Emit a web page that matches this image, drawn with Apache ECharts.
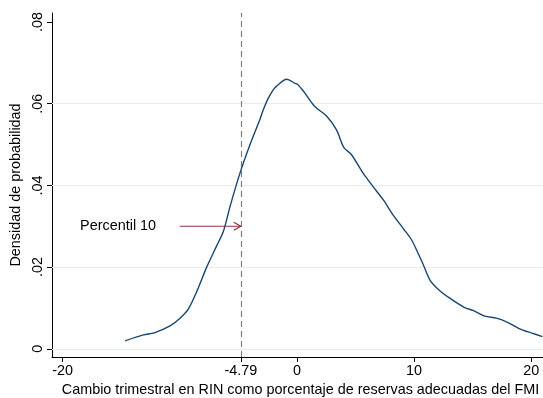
<!DOCTYPE html>
<html>
<head>
<meta charset="utf-8">
<script src="https://cdn.jsdelivr.net/npm/echarts@6/dist/echarts.min.js"></script>
<style>
  html, body { margin: 0; padding: 0; background: #fff; }
  #chart { width: 543px; height: 398px; }
</style>
</head>
<body>
<div id="chart"></div>
<script>
// Kernel density of the quarterly change in NIR (% of IMF adequate reserves)
const xValues = [-14.66, -13.1, -12.17, -10.83, -9.97, -9.27, -8.55, -7.7, -6.85, -6.28, -5.71,
  -4.86, -4.0, -3.15, -2.87, -2.45, -2.02, -1.73, -0.88, -0.17, 0.11, 0.68, 1.53, 2.53, 3.38,
  4.0, 4.66, 5.65, 6.5, 7.36, 8.2, 9.06, 9.78, 10.34, 10.77, 11.34, 12.05, 13.04, 14.32,
  15.03, 16.03, 17.02, 17.88, 19.0, 20.0, 20.95];
const densityValues = [0.00196, 0.0034, 0.0039, 0.0056, 0.0075, 0.0097, 0.0140, 0.0200, 0.0252, 0.0287, 0.0348,
  0.0430, 0.0500, 0.0562, 0.0585, 0.0613, 0.0634, 0.0643, 0.0660, 0.0650, 0.0646, 0.0626, 0.0593, 0.0570, 0.0536,
  0.0493, 0.0475, 0.0430, 0.0397, 0.0365, 0.0328, 0.0295, 0.0267, 0.0234, 0.0207, 0.0169, 0.0146, 0.0124, 0.0101,
  0.0094, 0.0080, 0.0075, 0.0066, 0.0049, 0.0039, 0.0030];

const xTicks = [-20, -4.79, 0, 10, 20];
const yTicks = [0, 0.02, 0.04, 0.06, 0.08];
const gridValues = [0, 0.02, 0.04, 0.06];

const percentile10 = -4.79;
const arrowStart = [-10, 0.03];
const arrowEnd = [-4.79, 0.03];
const noteText = 'Percentil 10';
const notePos = [-18.5, 0.03];

const xTitle = 'Cambio trimestral en RIN como porcentaje de reservas adecuadas del FMI';
const yTitle = 'Densidad de probabilidad';

const FONT = 'Liberation Sans, Arial, sans-serif';
const FS = 14.4;
const chart = echarts.init(document.getElementById('chart'), null, { renderer: 'canvas' });

const curve = xValues.map((x, i) => [x, densityValues[i]]);

chart.setOption({
  animation: false,
  backgroundColor: '#ffffff',
  grid: { left: 52, right: 0, top: 13, bottom: 41, containLabel: false, outerBoundsMode: 'none' },
  xAxis: {
    type: 'value',
    min: -20.9,
    max: 21,
    name: xTitle,
    nameLocation: 'middle',
    nameGap: 25,
    nameTextStyle: { fontFamily: FONT, fontSize: FS, color: '#000', padding: [0, 0, 0, 6] },
    axisLine: { show: true, onZero: false, lineStyle: { color: '#000', width: 1 } },
    axisTick: { show: true, customValues: xTicks, length: 5, lineStyle: { color: '#000' } },
    axisLabel: {
      customValues: xTicks,
      fontFamily: FONT, fontSize: FS, color: '#000', margin: 7,
      formatter: v => String(v)
    },
    splitLine: { show: false }
  },
  yAxis: {
    type: 'value',
    min: -0.002,
    max: 0.0822,
    name: yTitle,
    nameLocation: 'middle',
    nameGap: 28,
    nameRotate: 90,
    nameTextStyle: { fontFamily: FONT, fontSize: FS, color: '#000' },
    axisLine: { show: true, onZero: false, lineStyle: { color: '#000', width: 1 } },
    axisTick: { show: true, customValues: yTicks, length: 5, lineStyle: { color: '#000' } },
    axisLabel: {
      customValues: yTicks,
      rotate: 90,
      fontFamily: FONT, fontSize: FS, color: '#000', margin: 7,
      formatter: v => (v === 0 ? '0' : v.toFixed(2).replace(/^0/, ''))
    },
    splitLine: { show: false }
  },
  series: [
    {
      type: 'line',
      data: curve,
      smooth: 0.3,
      symbol: 'none',
      lineStyle: { color: '#1a476f', width: 1.4 },
      z: 5,
      markLine: {
        silent: true,
        symbol: 'none',
        label: { show: false },
        animation: false,
        data: gridValues.map(v => ({ yAxis: v, lineStyle: { color: '#e6eef0', width: 1, type: 'solid' } }))
          .concat([{ xAxis: percentile10, lineStyle: { color: '#7f7f7f', width: 1.2, type: [6, 4] } }])
      }
    },
    {
      // annotation: arrow pointing at the 10th percentile and its label
      type: 'custom',
      data: [[arrowStart[0], arrowStart[1], arrowEnd[0], arrowEnd[1]]],
      silent: true,
      z: 6,
      renderItem: function (params, api) {
        const p0 = api.coord([api.value(0), api.value(1)]);
        const p1 = api.coord([api.value(2), api.value(3)]);
        const t = api.coord(notePos);
        const c = '#90353b';
        return {
          type: 'group',
          children: [
            { type: 'line', shape: { x1: p0[0], y1: p0[1], x2: p1[0], y2: p1[1] },
              style: { stroke: c, lineWidth: 1.2 } },
            { type: 'polyline', shape: { points: [[p1[0] - 7, p1[1] - 4], [p1[0], p1[1]], [p1[0] - 7, p1[1] + 4]] },
              style: { stroke: c, lineWidth: 1.2, fill: null } },
            { type: 'text', x: t[0], y: t[1],
              style: { text: noteText, fill: '#000', font: FS + 'px ' + FONT, verticalAlign: 'middle', align: 'left' } }
          ]
        };
      }
    }
  ]
});
</script>
</body>
</html>
